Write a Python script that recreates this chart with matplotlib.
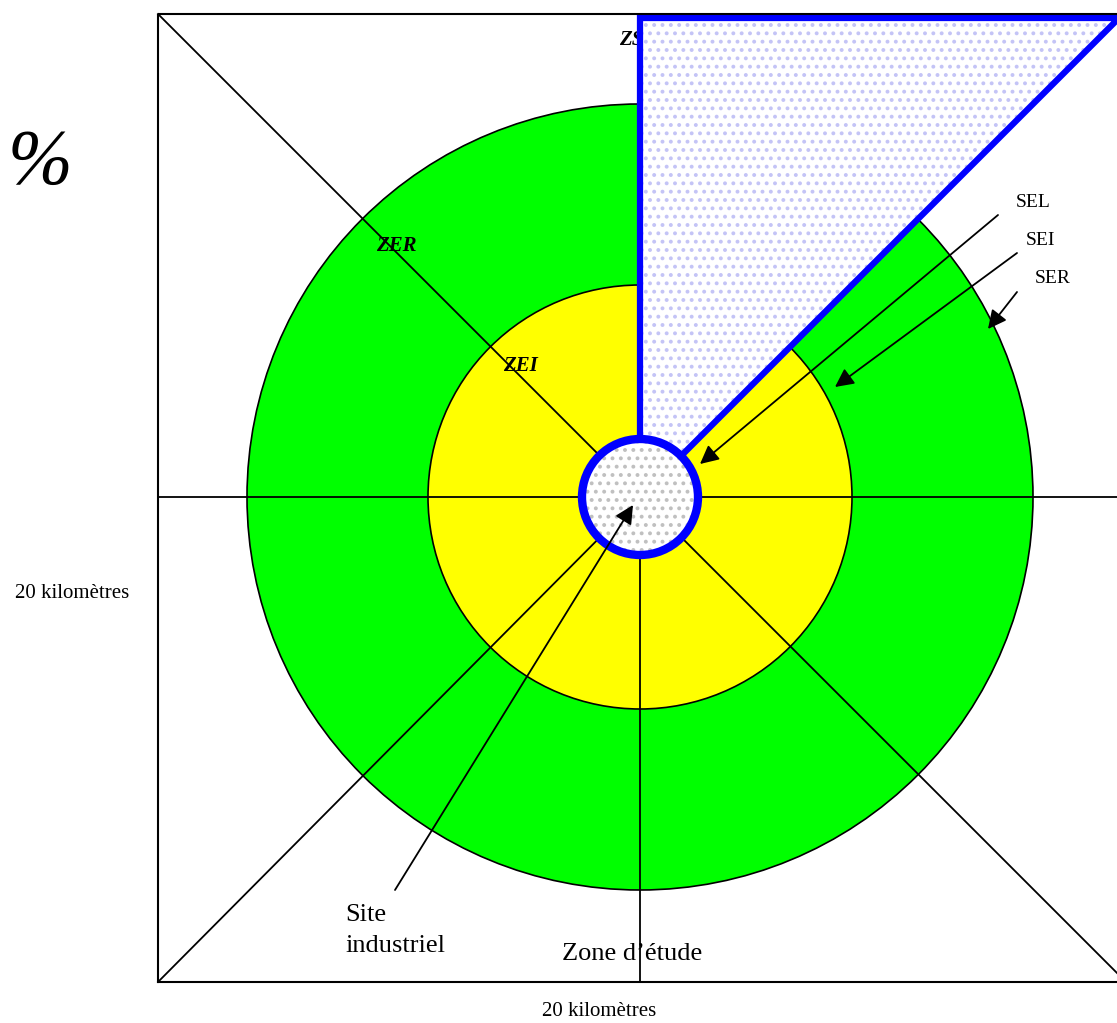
import numpy as np
import matplotlib
matplotlib.use("Agg")
import matplotlib.pyplot as plt
from matplotlib.patches import Circle, Polygon, Rectangle

plt.rcParams['font.family'] = ['Liberation Serif', 'DejaVu Serif']
plt.rcParams['hatch.linewidth'] = 1.6

# diagram geometry (pixel units of the original figure)
center = (640, 497)
square = (158, 14, 968)          # left, top, side
zone_radii = [393, 212]          # ZER, ZEI
zone_colors = ["#00ff00", "#ffff00"]
site_radius = 58
wedge_top = 18
wedge_right = 1119

# labels
zone_labels = ["ZER", "ZEI", "ZS"]
zone_label_pos = [(376, 251), (503, 371), (619, 45)]
scale_labels = ["SEL", "SEI", "SER"]
scale_label_pos = [(1016, 207), (1026, 245), (1035, 283)]
scale_arrow_from = [(998, 215), (1017, 253), (1017, 292)]
scale_arrow_to = [(700, 464), (835, 387), (988, 329)]

fig = plt.figure(figsize=(11.17, 10.23), dpi=100)
ax = fig.add_axes([0, 0, 1, 1])
ax.set_xlim(0, 1117)
ax.set_ylim(1023, 0)
ax.axis("off")

cx, cy = center
left, top, side = square

# zones
for r, c in zip(zone_radii, zone_colors):
    ax.add_patch(Circle(center, r, facecolor=c, edgecolor="black", lw=1.2, zorder=1))

# cross and diagonals
ax.plot([cx, cx], [top, top + side], color="black", lw=1.3, zorder=2)
ax.plot([left, left + side], [cy, cy], color="black", lw=1.3, zorder=2)
ax.plot([left, left + side], [top, top + side], color="black", lw=1.3, zorder=2)
ax.plot([left, cx], [top + side, cy], color="black", lw=1.3, zorder=2)

# zone labels (ZS sits under the sector)
for txt, (x, y) in zip(zone_labels, zone_label_pos):
    ax.text(x, y, txt, fontsize=15, fontweight="bold", fontstyle="italic",
            ha="left", va="baseline", zorder=2.5)

# exposed sector
wedge = [(cx, cy), (cx, wedge_top), (wedge_right, wedge_top)]
ax.add_patch(Polygon(wedge, closed=True, facecolor="white", edgecolor="none", zorder=3))
ax.add_patch(Polygon(wedge, closed=True, facecolor="none", edgecolor="#c4c4f6",
                     hatch="..", lw=0, zorder=3.1))
ax.add_patch(Polygon(wedge, closed=True, facecolor="none", edgecolor="#0000ff",
                     lw=4.5, joinstyle="miter", zorder=3.2))

# industrial site
ax.add_patch(Circle(center, site_radius, facecolor="white", edgecolor="none", zorder=4))
ax.add_patch(Circle(center, site_radius, facecolor="none", edgecolor="#c0c0c0",
                    hatch="..", lw=0, zorder=4.1))
ax.add_patch(Circle(center, site_radius, facecolor="none", edgecolor="#0000ff",
                    lw=6, zorder=4.2))

# study area frame
ax.add_patch(Rectangle((left, top), side, side, facecolor="none", edgecolor="black",
                       lw=1.5, zorder=5))

# scale arrows
arrow = dict(arrowstyle="-|>", color="black", lw=1.3, mutation_scale=28, shrinkA=0, shrinkB=0)
for txt, (x, y), p0, p1 in zip(scale_labels, scale_label_pos, scale_arrow_from, scale_arrow_to):
    ax.text(x, y, txt, fontsize=14, ha="left", va="baseline", zorder=6)
    ax.annotate("", xy=p1, xytext=p0, arrowprops=arrow, zorder=6)

ax.annotate("", xy=(633, 505), xytext=(395, 890), arrowprops=arrow, zorder=6)
ax.text(345, 921, "Site", fontsize=19, ha="left", va="baseline")
ax.text(345, 952, "industriel", fontsize=19, ha="left", va="baseline")
ax.text(562, 960, "Zone d\u2019étude", fontsize=19, ha="left", va="baseline", zorder=6)

ax.text(15, 598, "20 kilomètres", fontsize=15, ha="left", va="baseline")
ax.text(542, 1016, "20 kilomètres", fontsize=15, ha="left", va="baseline")

ax.text(8, 183, "%", fontsize=56, fontstyle="italic", ha="left", va="baseline")

fig.savefig("out.png", dpi=100)
